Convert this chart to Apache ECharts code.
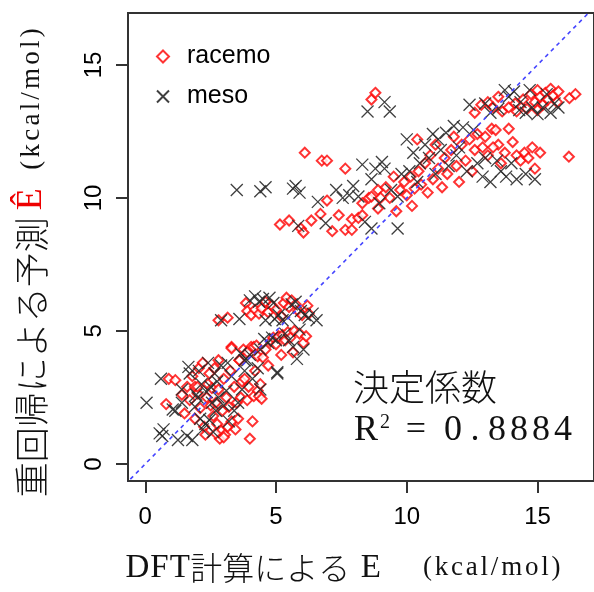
<!DOCTYPE html>
<html>
<head>
<meta charset="utf-8">
<script src="https://cdn.jsdelivr.net/npm/echarts@6/dist/echarts.min.js"></script>
<style>
  html, body { margin: 0; padding: 0; background: #fff; }
  #main { width: 594px; height: 592px; }
</style>
</head>
<body>
<div id="main"></div>
<script>
// DFT energy (x) vs regression estimate (y), kcal/mol
const racemo = [
  [0.8, 2.25], [0.9, 3.2], [1.15, 3.15], [1.4, 2.6], [1.5, 1.9], [1.6, 2.9], [1.7, 2.4], [1.8, 3.3],
  [1.9, 2.9], [2.0, 2.65], [2.05, 3.6], [2.1, 2.1], [2.2, 3.8], [2.25, 1.4], [2.3, 1.1], [2.35, 2.5],
  [2.4, 3.0], [2.45, 3.4], [2.5, 2.2], [2.55, 2.85], [2.6, 1.8], [2.65, 3.6], [2.7, 2.3], [2.75, 1.5],
  [2.8, 3.9], [2.8, 2.8], [2.85, 0.95], [2.9, 1.25], [2.95, 2.0], [3.0, 3.2], [3.05, 1.1], [3.1, 2.5],
  [3.15, 1.4], [3.2, 2.15], [3.25, 3.5], [3.3, 1.6], [3.3, 4.4], [3.4, 2.9], [3.45, 1.3], [3.5, 2.3],
  [3.55, 1.7], [3.6, 3.9], [3.65, 2.5], [3.7, 3.1], [3.75, 4.3], [3.8, 3.2], [3.9, 2.4], [3.95, 2.9],
  [4.0, 0.95], [4.05, 4.4], [4.1, 1.6], [4.15, 2.55], [4.2, 3.5], [4.3, 2.75], [4.35, 2.55], [4.45, 2.45],
  [4.4, 3.0], [4.3, 4.05], [2.0, 2.9], [1.9, 1.7], [2.7, 1.15], [3.0, 1.0],
  [3.3, 4.35], [3.6, 3.9], [3.9, 4.2], [4.15, 4.4], [4.25, 4.45], [4.5, 4.0], [4.6, 4.3], [4.8, 4.6],
  [4.9, 4.75], [5.0, 4.5], [5.1, 4.8], [5.25, 4.85], [5.35, 4.65], [5.45, 4.95], [5.55, 4.75], [5.65, 4.2],
  [5.7, 5.0], [5.9, 4.9], [6.05, 4.55], [6.15, 4.8], [4.7, 3.7], [5.2, 4.1],
  [2.8, 5.4], [3.15, 5.5], [3.85, 6.05], [3.9, 5.75], [4.05, 5.6], [4.2, 5.8], [4.35, 5.65], [4.45, 5.85],
  [4.6, 6.1], [4.7, 5.7], [4.85, 5.95], [5.0, 5.8], [5.3, 6.05], [5.4, 6.25], [5.5, 5.9], [5.6, 6.15],
  [5.75, 6.0], [5.85, 5.75], [6.0, 5.6], [6.2, 5.95], [6.25, 5.65], [5.2, 5.55],
  [5.15, 9.0], [5.5, 9.15], [5.95, 8.85], [6.05, 8.7], [6.1, 11.7], [6.35, 9.15], [6.7, 9.4], [6.75, 11.4],
  [6.95, 11.4], [6.95, 9.9], [7.15, 8.75], [7.4, 9.35], [7.65, 11.1], [7.65, 8.8], [7.9, 8.8], [7.9, 9.2],
  [8.15, 9.25], [8.3, 9.35], [8.3, 9.8], [8.55, 10.0], [8.65, 13.7], [8.8, 13.95], [8.65, 10.05], [8.9, 10.3],
  [8.9, 9.6], [9.2, 10.4], [9.35, 10.0], [9.5, 10.8], [9.6, 9.5], [9.75, 10.3], [9.9, 10.6], [10.0, 10.1],
  [10.15, 10.8], [10.3, 10.35], [10.4, 12.2], [10.45, 11.0], [10.55, 10.5], [10.7, 11.3], [10.8, 10.2], [10.9, 11.6],
  [11.0, 10.7], [11.1, 12.0], [11.2, 11.1], [11.35, 10.4], [11.45, 11.5], [11.55, 10.9], [11.7, 11.8], [11.8, 12.3],
  [11.9, 11.2], [12.0, 10.6], [12.1, 12.0], [12.25, 11.4], [12.4, 12.2], [12.5, 11.0], [12.6, 11.8], [12.7, 12.4],
  [12.85, 13.5], [12.9, 11.9], [13.0, 12.3], [13.1, 11.6], [13.25, 12.6], [13.4, 12.55], [13.5, 12.0], [13.6, 11.3],
  [13.75, 11.7], [13.9, 12.6], [14.05, 12.1], [14.2, 11.6], [14.35, 11.4], [14.5, 11.7], [14.65, 11.5], [14.8, 11.9],
  [14.9, 11.1], [15.1, 11.7], [16.2, 11.55], [13.3, 11.9], [9.0, 10.0], [10.2, 9.7],
  [12.6, 13.2], [13.1, 13.6], [13.5, 13.8], [13.65, 13.25], [13.9, 13.4], [14.15, 13.55], [14.2, 13.25], [14.45, 13.7],
  [14.6, 13.35], [14.75, 13.9], [14.9, 13.6], [15.0, 14.05], [15.1, 13.8], [15.2, 13.5], [15.3, 13.95], [15.4, 13.7],
  [15.5, 14.1], [15.6, 13.85], [15.75, 13.6], [15.8, 14.0], [16.22, 13.75], [16.45, 13.9], [15.0, 13.3], [13.3, 13.4]
]

const meso = [
  [0.05, 2.3], [0.55, 1.15], [0.65, 1.05], [0.6, 3.2], [0.7, 1.3], [1.05, 2.05], [1.15, 2.0], [1.25, 0.9],
  [1.4, 2.3], [1.4, 2.8], [1.6, 1.05], [1.65, 3.65], [1.7, 3.4], [1.8, 0.9], [1.9, 2.15], [2.0, 2.5],
  [2.05, 3.5], [2.1, 1.7], [2.15, 3.0], [2.2, 1.3], [2.3, 1.5], [2.35, 2.7], [2.4, 3.8], [2.45, 1.65],
  [2.5, 2.9], [2.55, 2.3], [2.65, 3.4], [2.7, 2.0], [2.75, 3.1], [2.8, 2.5], [2.9, 3.7], [3.0, 2.2],
  [3.1, 2.75], [3.15, 3.8], [3.3, 3.3], [3.4, 2.0], [3.55, 2.3], [3.65, 4.15], [3.7, 2.8], [3.8, 3.5],
  [3.9, 3.9], [4.1, 3.2], [4.3, 3.6], [5.05, 3.4], [2.6, 1.2], [1.95, 2.6], [3.2, 1.6], [4.4, 2.8],
  [3.8, 3.9], [4.4, 4.3], [4.55, 4.7], [4.7, 4.55], [4.85, 4.75], [5.0, 4.65], [5.05, 3.45], [5.35, 4.9],
  [5.5, 4.65], [5.65, 4.4], [5.8, 3.95], [5.9, 5.05], [6.05, 4.3], [4.0, 4.1],
  [2.9, 5.4], [3.6, 5.45], [4.0, 6.15], [4.2, 6.3], [4.35, 6.1], [4.5, 6.2], [4.6, 5.4], [4.75, 6.25],
  [4.9, 6.05], [4.95, 5.45], [5.1, 5.6], [5.25, 5.4], [5.6, 6.0], [5.75, 6.1], [5.95, 5.75], [6.1, 5.6],
  [6.25, 5.5], [6.55, 5.4], [6.4, 5.65], [5.45, 5.5],
  [3.5, 10.3], [4.4, 10.25], [4.6, 10.4], [5.65, 10.35], [5.75, 10.45], [5.9, 10.2], [5.85, 8.95], [6.6, 9.85],
  [6.9, 9.05], [7.3, 10.3], [7.55, 10.0], [7.8, 10.1], [7.95, 10.45], [8.15, 10.05], [8.3, 11.25], [8.4, 9.1],
  [8.5, 13.25], [8.65, 8.85], [8.65, 10.7], [8.8, 11.1], [8.95, 9.8], [9.05, 11.35], [9.15, 13.6], [9.15, 11.1],
  [9.35, 13.25], [9.4, 10.3], [9.65, 8.85], [9.65, 10.05], [9.8, 10.9], [10.0, 12.2], [10.1, 11.0], [10.25, 11.7],
  [10.4, 10.6], [10.5, 11.3], [10.7, 12.0], [10.85, 11.5], [11.0, 12.4], [11.1, 10.9], [11.3, 11.8], [11.5, 12.45],
  [11.6, 11.2], [11.8, 12.7], [11.9, 11.6], [12.15, 12.65], [12.3, 11.0], [12.55, 12.55], [12.7, 11.3], [12.9, 10.8],
  [13.0, 11.5], [13.2, 10.6], [13.45, 11.4], [13.6, 11.0], [13.8, 10.8], [14.0, 11.3], [14.2, 10.7], [14.55, 10.9],
  [14.9, 10.7], [12.0, 11.9], [11.2, 12.2],
  [12.4, 13.5], [13.0, 13.55], [13.2, 13.2], [13.5, 13.35], [13.75, 14.05], [13.9, 13.8], [14.1, 14.0], [14.35, 13.6],
  [14.55, 13.2], [14.7, 14.05], [14.8, 13.4], [15.0, 13.15], [15.2, 13.4], [15.35, 13.9], [15.5, 13.2], [15.65, 13.55],
  [15.8, 13.4], [14.3, 13.3]
]

const tickValues = [0, 5, 10, 15]
const identityLine = [[-1, -1], [18, 18]]
const xRange = [-0.66, 17.16]
const yRange = [-0.64, 16.95]

const serif = "'Liberation Serif', 'DejaVu Serif', serif"
const cjk = "'Noto Sans CJK JP', sans-serif"
const sans = "'Liberation Sans', Arial, sans-serif"
const crossPath = 'path://M0,0L10,10M10,0L0,10'

// one rich token per character, gives latin text the wide half-width look
function spaced (str, style) {
  return str.split('').map(ch => '{' + style + '|' + ch + '}').join('')
}

const myChart = echarts.init(document.getElementById('main'))

const axisCommon = {
  type: 'value',
  axisLine: {show: true, onZero: false, lineStyle: {color: '#333', width: 2}},
  axisTick: {show: true, length: 12, customValues: tickValues, lineStyle: {color: '#333', width: 2}},
  splitLine: {show: false},
}

const option = {
  animation: false,
  backgroundColor: '#fff',
  grid: {left: 128, top: 13, width: 475, height: 468, show: true, borderColor: '#333', borderWidth: 2},
  xAxis: Object.assign({}, axisCommon, {
    min: xRange[0], max: xRange[1],
    axisLabel: {customValues: tickValues, margin: 24, fontSize: 24, fontFamily: sans, color: '#000'}
  }),
  yAxis: Object.assign({}, axisCommon, {
    min: yRange[0], max: yRange[1],
    axisLabel: {customValues: tickValues, margin: 22, rotate: 90, fontSize: 24, fontFamily: sans, color: '#000'}
  }),
  legend: {
    orient: 'vertical', left: 151, top: 39,
    itemWidth: 12, itemHeight: 12, itemGap: 15,
    textStyle: {fontSize: 25, fontFamily: sans, color: '#000', padding: [0, 0, 0, 13]},
    data: ['racemo', 'meso']
  },
  series: [
    {
      name: 'racemo', type: 'scatter', data: racemo,
      symbol: 'emptyDiamond', symbolSize: 10,
      itemStyle: {color: '#ff0000', borderColor: '#ff0000', borderWidth: 1.3}
    },
    {
      name: 'meso', type: 'scatter', data: meso,
      symbol: crossPath, symbolSize: 12,
      itemStyle: {color: 'rgba(0,0,0,0)', borderColor: '#2a2a2a', borderWidth: 1.3, opacity: 0.9}
    },
    {
      name: 'y=x', type: 'line', data: identityLine, silent: true,
      symbol: 'none', clip: true,
      lineStyle: {color: '#4545ff', width: 1.6, type: [4, 4]}
    }
  ],
  graphic: [
    {
      type: 'text', x: 125, y: 568,
      style: {
        text: spaced('DFT', 'l') + '{c|計算による}{g| }{l|E}{g2| }' + spaced('(kcal/mol)', 'm'),
        verticalAlign: 'middle',
        rich: {
          l: {padding: [0, 0.5], fontSize: 33, fontFamily: serif, fill: '#111'},
          c: {fontSize: 32, fontWeight: 300, fontFamily: cjk, fill: '#111'},
          g: {width: 10},
          g2: {width: 40},
          m: {padding: [0, 1.4], fontSize: 27, fontFamily: serif, fill: '#111'}
        }
      }
    },
    {
      type: 'text', x: 32, y: 262, rotation: Math.PI / 2,
      style: {
        text: '{c|重回帰による予測}{g| }{e|Ê}{g2| }' + spaced('(kcal/mol)', 'm'),
        align: 'center', verticalAlign: 'middle',
        rich: {
          c: {fontSize: 35, fontWeight: 300, fontFamily: cjk, fill: '#111'},
          g: {width: 3},
          e: {width: 30, align: 'center', fontSize: 36, fontFamily: serif, fill: '#ee0000'},
          g2: {width: 13},
          m: {padding: [0, 1.6], fontSize: 27, fontFamily: serif, fill: '#111'}
        }
      }
    },
    {
      type: 'text', x: 353, y: 387,
      style: {
        text: '決定係数', fontSize: 36, fontWeight: 300, fontFamily: cjk, fill: '#111', verticalAlign: 'middle'
      }
    },
    {
      type: 'text', x: 354, y: 431,
      style: {
        text: '{r|R}{s|2}{e|=}' + spaced('0.8884', 'd'),
        verticalAlign: 'middle',
        rich: {
          r: {fontSize: 36, fontFamily: serif, fill: '#111'},
          s: {fontSize: 20, fontFamily: serif, fill: '#111', verticalAlign: 'top', padding: [0, 0, 0, 2]},
          e: {width: 52, align: 'center', fontSize: 36, fontFamily: serif, fill: '#111'},
          d: {width: 22, align: 'center', fontSize: 36, fontFamily: serif, fill: '#111'}
        }
      }
    }
  ]
}

myChart.setOption(option)
</script>
</body>
</html>
